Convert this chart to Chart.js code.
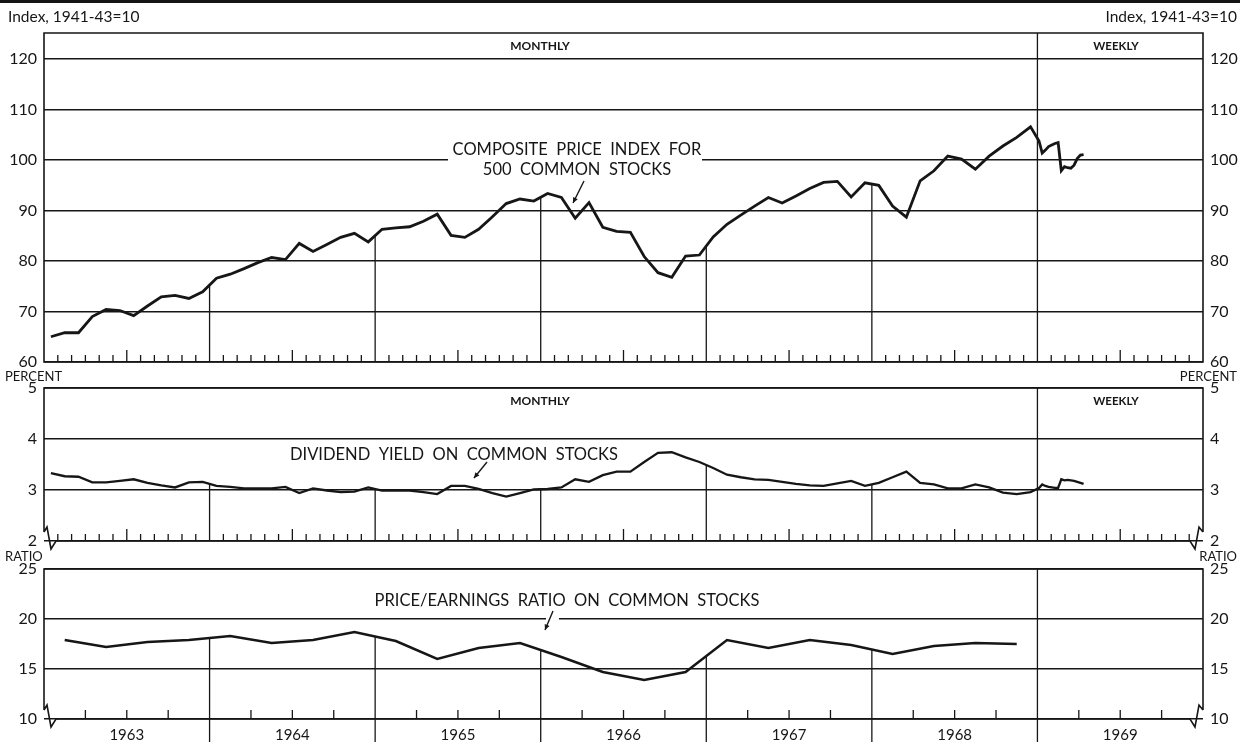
<!DOCTYPE html>
<html><head><meta charset="utf-8">
<script src="https://cdn.jsdelivr.net/npm/chart.js@4.4.1/dist/chart.umd.min.js"></script>
<style>
html,body{margin:0;padding:0;background:#fff;width:1240px;height:742px;overflow:hidden;}
#topbar{position:absolute;left:0;top:0;width:1240px;height:3px;background:#151515;}
canvas{position:absolute;left:0;top:0;}
</style></head><body>
<div id="topbar"></div>
<canvas id="cA" width="1240" height="742"></canvas>
<canvas id="cB" width="1240" height="742"></canvas>
<canvas id="cC" width="1240" height="742"></canvas>
<script>
// ---------------- DATA ----------------
const years = ['1963','1964','1965','1966','1967','1968','1969'];
// Composite price index, 500 common stocks, monthly Jan 1963 - Dec 1968
const priceMonthly = [
  65.0,65.8,65.8,69.0,70.4,70.2,69.2,71.1,72.9,73.2,72.6,73.9,
  76.6,77.4,78.5,79.7,80.7,80.3,83.5,81.9,83.3,84.7,85.5,83.8,
  86.3,86.6,86.8,87.9,89.3,85.1,84.7,86.3,88.8,91.4,92.3,91.9,
  93.4,92.6,88.5,91.6,86.7,85.9,85.7,80.9,77.7,76.8,81.0,81.2,
  84.8,87.3,89.1,90.9,92.6,91.5,92.9,94.4,95.6,95.8,92.7,95.5,
  95.0,90.9,88.7,95.9,97.9,100.8,100.2,98.2,100.8,102.8,104.5,106.6
];
// weekly, 1969
const priceWeekly = [103.8,101.4,102.0,102.7,103.0,103.3,103.5,97.9,98.7,98.5,98.4,99.0,100.3,101.0,101.1];
// Dividend yield (percent), monthly 1963-1968
const yieldMonthly = [
  3.33,3.27,3.26,3.15,3.15,3.18,3.21,3.14,3.09,3.05,3.15,3.16,
  3.08,3.06,3.03,3.03,3.03,3.06,2.94,3.03,2.99,2.96,2.97,3.05,
  2.99,2.99,2.99,2.96,2.92,3.08,3.08,3.02,2.94,2.87,2.94,3.01,
  3.02,3.05,3.21,3.16,3.29,3.36,3.36,3.55,3.73,3.74,3.64,3.55,
  3.43,3.30,3.25,3.21,3.20,3.16,3.12,3.09,3.08,3.13,3.18,3.08,
  3.14,3.25,3.36,3.14,3.11,3.03,3.03,3.11,3.05,2.95,2.92,2.96
];
const yieldWeekly = [3.04,3.11,3.08,3.06,3.05,3.04,3.04,3.21,3.19,3.20,3.19,3.18,3.16,3.14,3.12];
// Price/earnings ratio, quarterly 1963-1968
const peQuarterly = [
  17.9,17.2,17.7,17.9,
  18.3,17.6,17.9,18.7,
  17.8,16.0,17.1,17.6,
  16.2,14.7,13.9,14.7,
  17.9,17.1,17.9,17.4,
  16.5,17.3,17.6,17.5
];
const priceTicks = [60,70,80,90,100,110,120];
const yieldTicks = [2,3,4,5];
const peTicks = [10,15,20,25];

// ---------------- BUILD ----------------
const INK = '#161616';
const FONT = "Lato, 'DejaVu Sans', sans-serif";
Chart.defaults.font.family = FONT;
Chart.defaults.color = INK;

const WEEK = 12/52;
const priceData = priceMonthly.map((v,i)=>({x:i+0.5,y:v}))
  .concat(priceWeekly.map((v,k)=>({x:72+(k+0.5)*WEEK,y:v})));
const yieldData = yieldMonthly.map((v,i)=>({x:i+0.5,y:v}))
  .concat(yieldWeekly.map((v,k)=>({x:72+(k+0.5)*WEEK,y:v})));
const peData = peQuarterly.map((v,i)=>({x:i*3+1.5,y:v}));

function valueAt(data, x){
  for(let i=0;i<data.length-1;i++){
    if(data[i].x<=x && data[i+1].x>=x){
      const t=(x-data[i].x)/(data[i+1].x-data[i].x);
      return data[i].y+t*(data[i+1].y-data[i].y);
    }
  }
  return null;
}

function yAxes(min,max,ticks){
  const tk = {font:{size:16}, color:INK, padding:7};
  return {
    y:{type:'linear',position:'left',min,max,
       afterBuildTicks:s=>{s.ticks=ticks.map(v=>({value:v}));},
       afterFit:s=>{s.width=44;},
       ticks:tk, border:{display:false},
       grid:{color:INK,lineWidth:1.5,drawTicks:false}},
    y2:{type:'linear',position:'right',min,max,
       afterBuildTicks:s=>{s.ticks=ticks.map(v=>({value:v}));},
       afterFit:s=>{s.width=37;},
       ticks:tk, border:{display:false},
       grid:{display:false,drawTicks:false}}
  };
}

function drawText(ctx,t){
  ctx.font = (t.bold?'bold ':'')+t.size+'px '+FONT;
  ctx.textAlign = t.align||'center';
  ctx.textBaseline = 'middle';
  ctx.fillStyle = INK;
  ctx.fillText(t.t,t.x,t.y);
}
function drawArrow(ctx,a){
  const [x1,y1,x2,y2]=a;
  ctx.lineWidth=1.4;
  ctx.beginPath();ctx.moveTo(x1,y1);ctx.lineTo(x2,y2);ctx.stroke();
  const ang=Math.atan2(y2-y1,x2-x1), L=6, W=0.45;
  ctx.beginPath();
  ctx.moveTo(x2,y2);
  ctx.lineTo(x2-L*Math.cos(ang-W),y2-L*Math.sin(ang-W));
  ctx.lineTo(x2-L*Math.cos(ang+W),y2-L*Math.sin(ang+W));
  ctx.closePath();ctx.fillStyle=INK;ctx.fill();
}

function decor(opt){
  return {
    id:'decor',
    beforeDatasetsDraw(chart){
      const ctx=chart.ctx, a=chart.chartArea, x=chart.scales.x, y=chart.scales.y;
      ctx.save();
      ctx.fillStyle='#fff';
      (opt.masks||[]).forEach(r=>ctx.fillRect(r[0],r[1],r[2],r[3]));
      ctx.strokeStyle=INK; ctx.lineWidth=1.6; ctx.lineJoin='miter';
      const L=a.left,R=a.right,T=a.top,B=a.bottom;
      ctx.beginPath();
      if(!opt.breaks){
        ctx.rect(L,T,R-L,B-T);
      } else {
        ctx.moveTo(L,B-9); ctx.lineTo(L,T); ctx.lineTo(R,T); ctx.lineTo(R,B-9);
        // left break
        ctx.moveTo(L,B-9); ctx.lineTo(L+3,B-14); ctx.lineTo(L+7,B+8); ctx.lineTo(L+12,B);
        ctx.lineTo(R-13,B);
        // right break
        ctx.lineTo(R-8,B+8); ctx.lineTo(R-4,B-14); ctx.lineTo(R,B-9);
      }
      ctx.stroke();
      // ticks along bottom
      ctx.lineWidth=1.3;
      for(let k=1;k<84;k++){
        if(k%12===0) continue;
        let h=0;
        if(opt.tickMode==='month') h=(k%12===6)?12:7;
        else if(k%3===0) h=9;
        if(!h) continue;
        const px=x.getPixelForValue(k);
        ctx.beginPath();ctx.moveTo(px,B);ctx.lineTo(px,B-h);ctx.stroke();
      }
      // year dividers (rise to the curve; full height at the monthly/weekly split)
      const data=chart.data.datasets[0].data;
      for(let k=1;k<=6;k++){
        const v=12*k, px=x.getPixelForValue(v);
        let top=T;
        if(k<6){const val=valueAt(data,v); if(val!=null) top=y.getPixelForValue(val);}
        ctx.beginPath();ctx.moveTo(px,top);ctx.lineTo(px,opt.divBottom||B);ctx.stroke();
      }
      (opt.texts||[]).forEach(t=>drawText(ctx,t));
      ctx.strokeStyle=INK;
      (opt.arrows||[]).forEach(ar=>drawArrow(ctx,ar));
      ctx.restore();
    }
  };
}

function makeChart(id, data, lw, yMin, yMax, ticks, pad, xAxis, opt){
  return new Chart(document.getElementById(id),{
    type:'line',
    data:{datasets:[{data, borderColor:INK, borderWidth:lw, pointRadius:0, tension:0, fill:false, yAxisID:'y', borderJoinStyle:'miter'}]},
    options:{
      responsive:false, animation:false, events:[],
      layout:{padding:pad},
      plugins:{legend:{display:false},tooltip:{enabled:false}},
      scales:Object.assign({x:xAxis}, yAxes(yMin,yMax,ticks))
    },
    plugins:[decor(opt)]
  });
}

// Top panel: composite price index
makeChart('cA', priceData, 2.8, 60, 125.2, priceTicks,
  {top:33,bottom:380,left:0,right:0},
  {type:'linear',min:0,max:84,display:false},
  {tickMode:'month',
   masks:[[448,140,254,40]],
   texts:[
     {t:'Index, 1941-43=10',x:8,y:17,size:15.5,align:'left'},
     {t:'Index, 1941-43=10',x:1237,y:17,size:15.5,align:'right'},
     {t:'MONTHLY',x:540,y:46,size:12,bold:true},
     {t:'WEEKLY',x:1116,y:46,size:11.5,bold:true},
     {t:'COMPOSITE  PRICE  INDEX  FOR',x:577,y:150,size:16.5},
     {t:'500  COMMON  STOCKS',x:577,y:170,size:16.5},
     {t:'PERCENT',x:5,y:377,size:13,align:'left'},
     {t:'PERCENT',x:1237,y:377,size:13,align:'right'}
   ],
   arrows:[[584,181,573,203]]});

// Middle panel: dividend yield
makeChart('cB', yieldData, 2.3, 2, 5, yieldTicks,
  {top:388,bottom:201,left:0,right:0},
  {type:'linear',min:0,max:84,display:false},
  {tickMode:'month', breaks:true,
   texts:[
     {t:'MONTHLY',x:540,y:401,size:12,bold:true},
     {t:'WEEKLY',x:1116,y:401,size:11.5,bold:true},
     {t:'DIVIDEND  YIELD  ON  COMMON  STOCKS',x:454,y:455,size:16.5},
     {t:'RATIO',x:5,y:557,size:13,align:'left'},
     {t:'RATIO',x:1237,y:557,size:13,align:'right'}
   ],
   arrows:[[487,462,474,478]]});

// Bottom panel: price/earnings ratio
makeChart('cC', peData, 2.5, 10, 25, peTicks,
  {top:569,bottom:0,left:0,right:0},
  {type:'linear',min:0,max:84,
   afterBuildTicks:s=>{s.ticks=years.map((yr,i)=>({value:i*12+6}));},
   afterFit:s=>{s.height=23;},
   ticks:{callback:(v,i)=>years[i],font:{size:15},color:INK,padding:7,maxRotation:0,autoSkip:false},
   grid:{display:false,drawTicks:false}, border:{display:false}},
  {tickMode:'quarter', breaks:true, divBottom:742,
   masks:[[546,613,13,10]],
   texts:[
     {t:'PRICE/EARNINGS  RATIO  ON  COMMON  STOCKS',x:567,y:601,size:16.5}
   ],
   arrows:[[553,611,545,630]]});
</script>
</body></html>
